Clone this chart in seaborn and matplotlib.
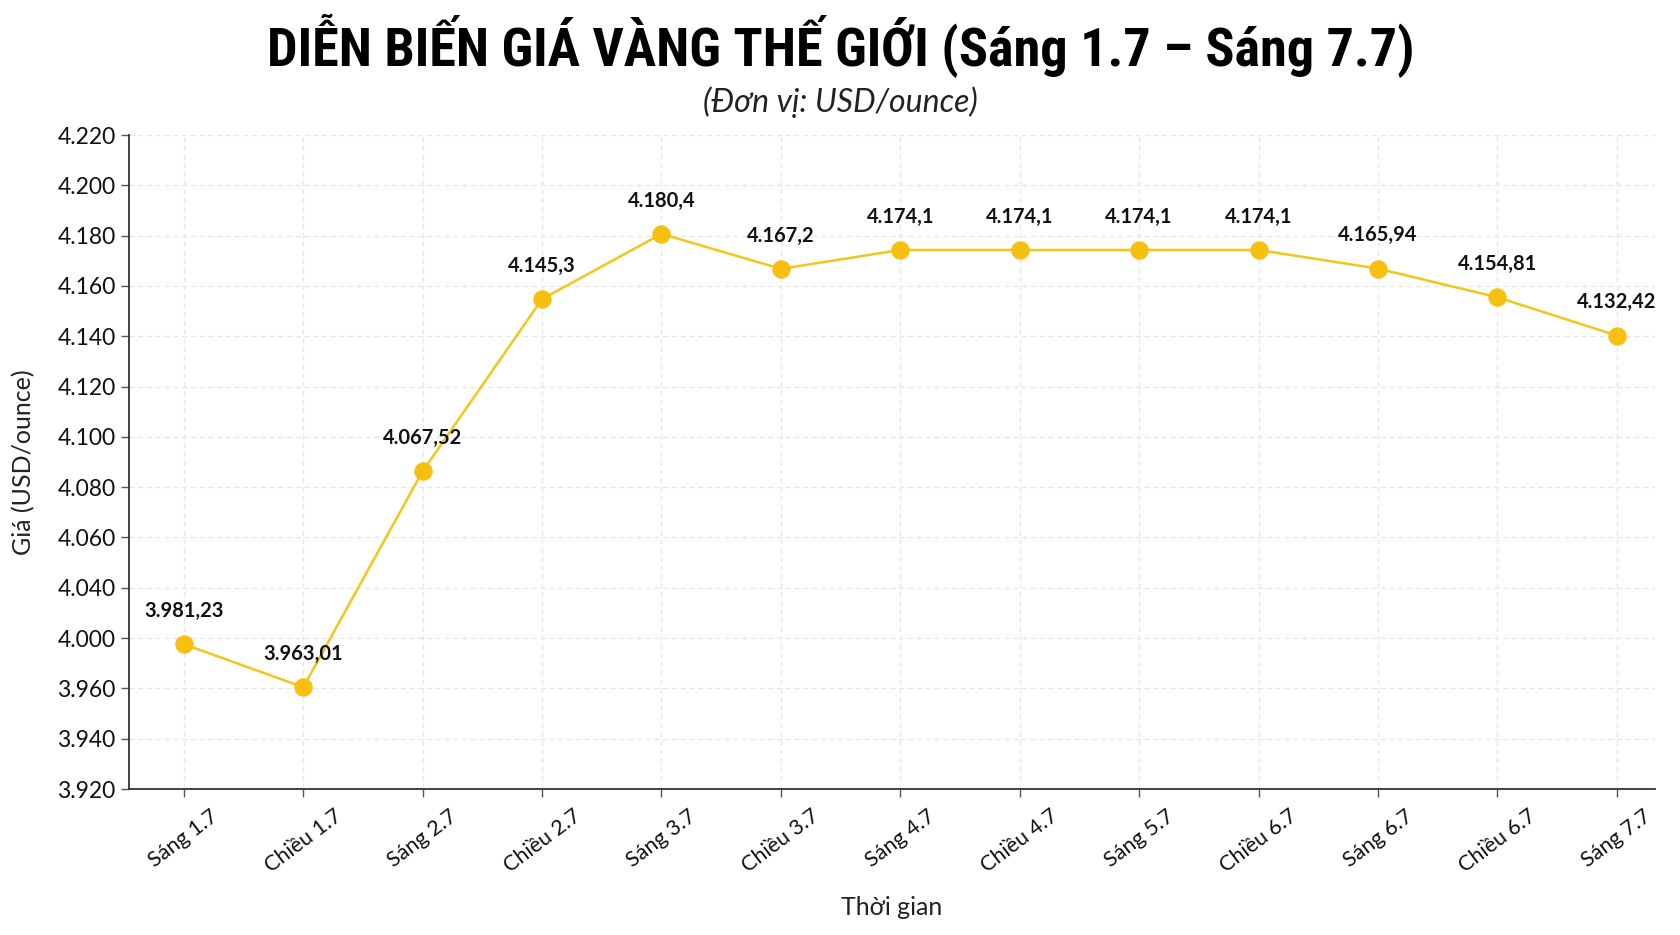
import numpy as np
import pandas as pd
import seaborn as sns
import matplotlib.pyplot as plt
from matplotlib.transforms import ScaledTranslation

# thoi diem (x) va gia (vi tri diem tren truc y)
thoi_diem = ['Sáng 1.7', 'Chiều 1.7', 'Sáng 2.7', 'Chiều 2.7', 'Sáng 3.7', 'Chiều 3.7',
             'Sáng 4.7', 'Chiều 4.7', 'Sáng 5.7', 'Chiều 6.7', 'Sáng 6.7', 'Chiều 6.7', 'Sáng 7.7']
gia = [4017.6, 4000.5, 4086.4, 4154.8, 4180.7, 4166.8, 4174.3,
       4174.3, 4174.3, 4174.3, 4166.9, 4155.5, 4140.3]
nhan_gia = ['3.981,23', '3.963,01', '4.067,52', '4.145,3', '4.180,4', '4.167,2', '4.174,1',
            '4.174,1', '4.174,1', '4.174,1', '4.165,94', '4.154,81', '4.132,42']
# nhan truc y nhu trong anh goc (bo qua 4.020 va 3.980)
nhan_truc_y = ['3.920', '3.940', '3.960', '4.000', '4.040', '4.060', '4.080',
               '4.100', '4.120', '4.140', '4.160', '4.180', '4.200', '4.220']

df = pd.DataFrame({'idx': np.arange(len(thoi_diem)), 'gia': gia})

sns.set_theme(style='white')
plt.rcParams['font.family'] = ['Lato', 'DejaVu Sans']

fig = plt.figure(figsize=(16.81, 9.35), dpi=100)
ax = fig.add_axes([0.0767, 0.1561, 0.9078, 0.6995])

vang = '#F7C010'
sns.lineplot(data=df, x='idx', y='gia', ax=ax, color='#F5C518', linewidth=1.8,
             marker='o', markersize=12.5, markerfacecolor=vang, markeredgecolor=vang)

for i, (v, s) in enumerate(zip(gia, nhan_gia)):
    ax.annotate(s, (i, v), xytext=(0, 24), textcoords='offset points',
                ha='center', va='center', fontsize=14.5, fontweight='bold', color='#111111')

ax.set_xlim(-0.46, 12.32)
ax.set_ylim(3960, 4220)
ax.set_yticks(np.arange(3960, 4221, 20))
ax.set_yticklabels(nhan_truc_y, fontsize=16.5, color='#111111')
ax.set_xticks(df['idx'])
ax.set_xticklabels(thoi_diem, rotation=37, ha='center', fontsize=15.5, color='#111111')
dich = ScaledTranslation(-0.18, 0, fig.dpi_scale_trans)
for lbl in ax.get_xticklabels():
    lbl.set_transform(lbl.get_transform() + dich)

ax.grid(True, linestyle=(0, (4, 3)), color='#e6e6e6', linewidth=0.9)
for side in ['top', 'right']:
    ax.spines[side].set_visible(False)
for side in ['left', 'bottom']:
    ax.spines[side].set_color('#333333')
    ax.spines[side].set_linewidth(1.3)
ax.tick_params(axis='both', direction='out', length=6, width=1, color='#555555', bottom=True, left=True)
ax.tick_params(axis='x', pad=6)

ax.set_xlabel('Thời gian', fontsize=18, color='#222222', labelpad=14)
ax.set_ylabel('Giá (USD/ounce)', fontsize=18, color='#222222', labelpad=16)

fig.text(0.5, 0.951, 'DIỄN BIẾN GIÁ VÀNG THẾ GIỚI (Sáng 1.7 – Sáng 7.7)', ha='center', va='center',
         fontsize=39, fontweight='bold', fontstretch='condensed',
         family=['Roboto Condensed', 'DejaVu Sans Condensed', 'Roboto', 'DejaVu Sans'], color='#000000')
fig.text(0.5, 0.891, '(Đơn vị: USD/ounce)', ha='center', va='center',
         fontsize=23, style='italic', color='#222222')

plt.savefig('out.png', dpi=100)
